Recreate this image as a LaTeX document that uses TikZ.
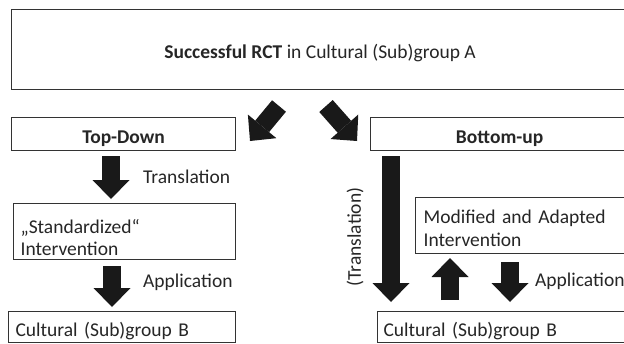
\documentclass[tikz,border=0pt]{standalone}
\usepackage{fontspec}
\setmainfont{Carlito}
\usepackage{xcolor}
\usepackage{tikz}
\usetikzlibrary{arrows.meta}

\begin{document}
\begin{tikzpicture}[x=1pt,y=-1pt,
    box/.style={draw=black!80, line width=1.2pt, fill=white, anchor=north west,
      inner sep=0pt, text=black!85, font=\fontsize{19.5}{22.5}\selectfont},
    oneline/.style={box, text height=19.6pt, text depth=0pt},
    leftbox/.style={box, align=left},
    label/.style={anchor=west, inner sep=0pt, text=black!85, font=\fontsize{19.5}{22.5}\selectfont},
    blockarrow/.style={line width=18pt, draw=black!90,
      -{Triangle[length=19pt,width=37pt,line width=0pt]}}]
    \useasboundingbox (0,0) rectangle (624,343);
    \clip (0,0) rectangle (624,343);
    \node[oneline, text height=18.6pt, minimum width=617, minimum height=80] (rct) at (11,9) {\textbf{Successful RCT} in Cultural (Sub)group A};
    \node[oneline, minimum width=224, minimum height=33] (topdown) at (11,117) {\textbf{Top-Down}};
    \node[oneline, minimum width=258, minimum height=33] (bottomup) at (370,117) {\textbf{Bottom-up}};
    \node[leftbox, minimum width=222, minimum height=56, text width=208, inner xsep=7pt] (standard) at (13,203) {\rule{0pt}{26pt}„Standardized“\\Intervention};
    \node[oneline, align=left, minimum width=227, minimum height=31, text width=213, inner xsep=7pt] (groupbl) at (8,311) {Cultural (Sub)group B};
    \node[leftbox, minimum width=217, minimum height=56, text width=201, inner xsep=8pt] (modified) at (415,197) {\rule{0pt}{18.5pt}Modified and Adapted\\Intervention};
    \node[oneline, align=left, minimum width=255, minimum height=31, text width=243, inner xsep=6pt] (groupbr) at (377,311) {Cultural (Sub)group B};
    \node[label] (transl) at (143,177) {Translation};
    \node[label] (applyl) at (143,282) {Application};
    \node[label] (applyr) at (535,281) {Application};
    \node[label, anchor=center, rotate=90] (translr) at (355,237) {(Translation)};
    \coordinate (tdtail) at (279,106);
    \coordinate (tdtip) at (250,141);
    \coordinate (butail) at (326,106);
    \coordinate (butip) at (357,141);
    \coordinate (trtop) at (111,156);
    \coordinate (trtip) at (111,199);
    \coordinate (aptop) at (112,266);
    \coordinate (aptip) at (112,307);
    \coordinate (longtop) at (391,156);
    \coordinate (longtip) at (391,302);
    \coordinate (upbottom) at (450,300);
    \coordinate (uptip) at (450,258);
    \coordinate (downtop) at (510,262);
    \coordinate (downtip) at (510,302);
    \draw[blockarrow] (tdtail) -- (tdtip);
    \draw[blockarrow] (butail) -- (butip);
    \draw[blockarrow] (trtop) -- (trtip);
    \draw[blockarrow] (aptop) -- (aptip);
    \draw[blockarrow] (longtop) -- (longtip);
    \draw[blockarrow] (upbottom) -- (uptip);
    \draw[blockarrow] (downtop) -- (downtip);
\end{tikzpicture}
\end{document}
